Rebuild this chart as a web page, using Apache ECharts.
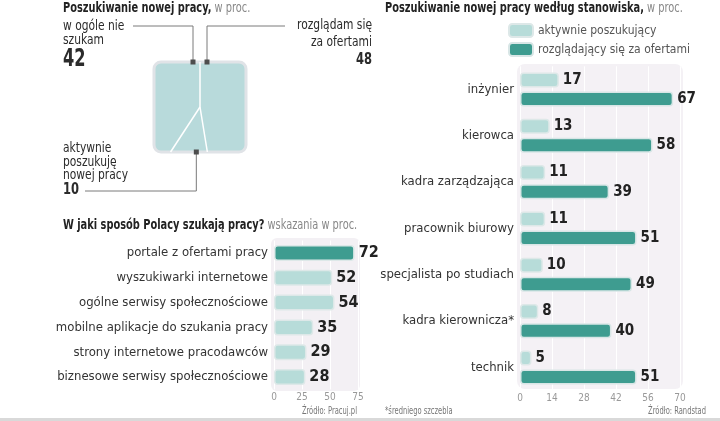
<!DOCTYPE html>
<html><head><meta charset="utf-8">
<script src="https://cdn.jsdelivr.net/npm/echarts@6/dist/echarts.min.js"></script>
<style>html,body{margin:0;padding:0;background:#fff}#c{width:720px;height:421px}</style>
</head><body><div id="c"></div>
<script>
// ---- data ----
const searchLabels = [['w ogóle nie', 'szukam'], ['rozglądam się', 'za ofertami'], ['aktywnie', 'poszukuję', 'nowej pracy']];
const searchValues = [42, 48, 10];

const methodCategories = ['portale z ofertami pracy', 'wyszukiwarki internetowe', 'ogólne serwisy społecznościowe',
  'mobilne aplikacje do szukania pracy', 'strony internetowe pracodawców', 'biznesowe serwisy społecznościowe'];
const methodValues = [72, 52, 54, 35, 29, 28];
const methodTicks = [0, 25, 50, 75];

const jobCategories = ['inżynier', 'kierowca', 'kadra zarządzająca', 'pracownik biurowy',
  'specjalista po studiach', 'kadra kierownicza*', 'technik'];
const seriesNames = ['aktywnie poszukujący', 'rozglądający się za ofertami'];
const activeValues = [17, 13, 11, 11, 10, 8, 5];
const lookingValues = [67, 58, 39, 51, 49, 40, 51];
const jobTicks = [0, 14, 28, 42, 56, 70];

// ---- style ----
const F = "'Liberation Sans Narrow', 'DejaVu Sans Condensed', 'Roboto', sans-serif";
const DARK = '#3e9c90';
const LIGHT = '#b7dcd9';
const SQ = '#b8dadb';
const TXT = '#2b2b2b';

const chart = echarts.init(document.getElementById('c'), null, {renderer: 'canvas'});

function T(text, x, y, o) {
  o = o || {};
  return {type: 'text', z: 10, x: x, y: y, scaleX: o.sx || 0.85, style: {
    text: text, x: 0, y: 0, fill: o.fill || TXT,
    font: (o.bold ? 'bold ' : '') + (o.size || 14) + 'px ' + F,
    textAlign: o.align || 'left', textVerticalAlign: 'middle'
  }};
}
function R(text, x, y, rich) {
  return {type: 'text', z: 10, x: x, y: y, scaleX: 0.78, style: {text: text, x: 0, y: 0, textVerticalAlign: 'middle', rich: rich}};
}
const titleRich = {
  b: {fontFamily: F, fontWeight: 'bold', fontSize: 14, fill: '#222', color: '#222'},
  r: {fontFamily: F, fontSize: 14, fill: '#888', color: '#888'}
};

const graphics = [
  R('{b|Poszukiwanie nowej pracy,}{r| w proc.}', 63, 8, titleRich),
  R('{b|Poszukiwanie nowej pracy według stanowiska,}{r| w proc.}', 385, 8, titleRich),
  R('{b|W jaki sposób Polacy szukają pracy?}{r| wskazania w proc.}', 63, 225, titleRich),
  T(searchLabels[0][0], 63, 26),
  T(searchLabels[0][1], 63, 40),
  T(String(searchValues[0]), 63, 59, {bold: true, size: 25, sx: 0.72}),
  T(searchLabels[1][0], 372, 25, {align: 'right'}),
  T(searchLabels[1][1], 372, 42, {align: 'right'}),
  T(String(searchValues[1]), 372, 60, {bold: true, size: 16, align: 'right', sx: 0.8}),
  T(searchLabels[2][0], 63, 148),
  T(searchLabels[2][1], 63, 162),
  T(searchLabels[2][2], 63, 175),
  T(String(searchValues[2]), 63, 190, {bold: true, size: 16, sx: 0.8}),
  T('Źródło: Pracuj.pl', 357, 411, {size: 10, fill: '#777', align: 'right', sx: 0.75}),
  T('*średniego szczebla', 385, 411, {size: 10, fill: '#777', sx: 0.75}),
  T('Źródło: Randstad', 706, 411, {size: 10, fill: '#777', align: 'right', sx: 0.75}),
  {type: 'rect', z: -10, shape: {x: 271, y: 238, width: 89, height: 153, r: 6}, style: {fill: '#f3f0f4'}},
  {type: 'rect', z: -10, shape: {x: 517, y: 64, width: 166, height: 325, r: 8}, style: {fill: '#f4f1f5'}},
  {type: 'rect', z: -10, shape: {x: 0, y: 418, width: 720, height: 3}, style: {fill: '#d9d9d9'}}
];

function renderSquare(params, api) {
  const look = searchValues[1] / 100, active = searchValues[2] / 100;
  const xt = 0.5, jx = 0.5, jy = 0.5;
  const w = 2 * active / (1 - jy);
  const xb = 2 * (1 - (look - (1 - (xt + jx) / 2) * jy) / (1 - jy)) - jx;
  const xl = xb - w;
  const P = (x, y) => api.coord([x, y]);
  const tl = P(0, 0), br = P(1, 1);
  const top = P(xt, 0), J = P(jx, jy), B = P(xb, 1), L = P(xl, 1);
  const m1 = [top[0] - 7, tl[1]], m2 = [top[0] + 7, tl[1]];
  const m3 = [P(0.7 * xb + 0.3 * xl, 1)[0], br[1]];
  const lead = {stroke: '#7a7a7a', lineWidth: 1, fill: null};
  const mk = (p) => ({type: 'rect', shape: {x: p[0] - 2.5, y: p[1] - 2.5, width: 5, height: 5}, style: {fill: '#4d4d4d'}});
  return {type: 'group', children: [
    {type: 'rect', shape: {x: tl[0], y: tl[1], width: br[0] - tl[0], height: br[1] - tl[1], r: 7},
      style: {fill: SQ, stroke: '#e0e3e7', lineWidth: 3}},
    {type: 'polyline', shape: {points: [top, J, B]}, style: {stroke: '#fff', lineWidth: 1.5, fill: null}},
    {type: 'line', shape: {x1: J[0], y1: J[1], x2: L[0], y2: L[1]}, style: {stroke: '#fff', lineWidth: 1.5}},
    {type: 'polyline', shape: {points: [m1, [m1[0], 26], [133, 26]]}, style: lead},
    {type: 'polyline', shape: {points: [m2, [m2[0], 26], [285, 26]]}, style: lead},
    {type: 'polyline', shape: {points: [m3, [m3[0], 191], [85, 191]]}, style: lead},
    mk(m1), mk(m2), mk(m3)
  ]};
}

const valueLabel = (size) => ({show: true, position: 'right', distance: 4, fontFamily: F, fontWeight: 'bold', fontSize: size, color: '#222'});
const catLabel = {fontFamily: F, fontSize: 13, color: '#333', margin: 6};
const tickLabel = {fontFamily: F, fontSize: 10, color: '#999', margin: 3};

chart.setOption({
  animation: false,
  backgroundColor: '#fff',
  graphic: graphics,
  legend: {
    data: seriesNames, left: 508, top: 23, padding: 0, orient: 'vertical', itemWidth: 24, itemHeight: 13, itemGap: 4,
    icon: 'roundRect', textStyle: {fontFamily: F, fontSize: 12, color: '#555'}
  },
  grid: [
    {left: 154, top: 62, width: 92, height: 90, outerBoundsMode: 'none'},
    {left: 274, top: 240.5, width: 84, height: 149, outerBoundsMode: 'none'},
    {left: 520, top: 66.3, width: 160, height: 324.3, outerBoundsMode: 'none'}
  ],
  xAxis: [
    {gridIndex: 0, type: 'value', min: 0, max: 1, show: false},
    {gridIndex: 1, type: 'value', min: methodTicks[0], max: methodTicks[methodTicks.length - 1], interval: methodTicks[1] - methodTicks[0],
      axisLine: {show: false}, axisTick: {show: false}, axisLabel: tickLabel,
      splitLine: {show: true, lineStyle: {color: '#ffffff', width: 1}}},
    {gridIndex: 2, type: 'value', min: jobTicks[0], max: jobTicks[jobTicks.length - 1], interval: jobTicks[1] - jobTicks[0],
      axisLine: {show: false}, axisTick: {show: false}, axisLabel: tickLabel,
      splitLine: {show: true, lineStyle: {color: '#ffffff', width: 1}}}
  ],
  yAxis: [
    {gridIndex: 0, type: 'value', min: 0, max: 1, inverse: true, show: false},
    {gridIndex: 1, type: 'category', data: methodCategories, inverse: true,
      axisLine: {show: false}, axisTick: {show: false}, axisLabel: catLabel},
    {gridIndex: 2, type: 'category', data: jobCategories, inverse: true,
      axisLine: {show: false}, axisTick: {show: false}, axisLabel: catLabel}
  ],
  series: [
    {type: 'custom', xAxisIndex: 0, yAxisIndex: 0, data: [[0, 0]], renderItem: renderSquare, silent: true},
    {type: 'bar', xAxisIndex: 1, yAxisIndex: 1, barWidth: 16,
      data: methodValues.map((v, i) => ({value: v, itemStyle: {color: i === 0 ? DARK : LIGHT}})),
      itemStyle: {borderRadius: 3, borderColor: '#dde8e8', borderWidth: 1.5},
      label: valueLabel(16)},
    {type: 'bar', name: seriesNames[0], xAxisIndex: 2, yAxisIndex: 2, barWidth: 15, barGap: '27%',
      data: activeValues, itemStyle: {color: LIGHT, borderRadius: 3, borderColor: '#dde8e8', borderWidth: 1.5},
      label: valueLabel(15)},
    {type: 'bar', name: seriesNames[1], xAxisIndex: 2, yAxisIndex: 2, barWidth: 15, barGap: '27%',
      data: lookingValues, itemStyle: {color: DARK, borderRadius: 3, borderColor: '#d8e6e6', borderWidth: 1.5},
      label: valueLabel(15)}
  ]
});
</script></body></html>
